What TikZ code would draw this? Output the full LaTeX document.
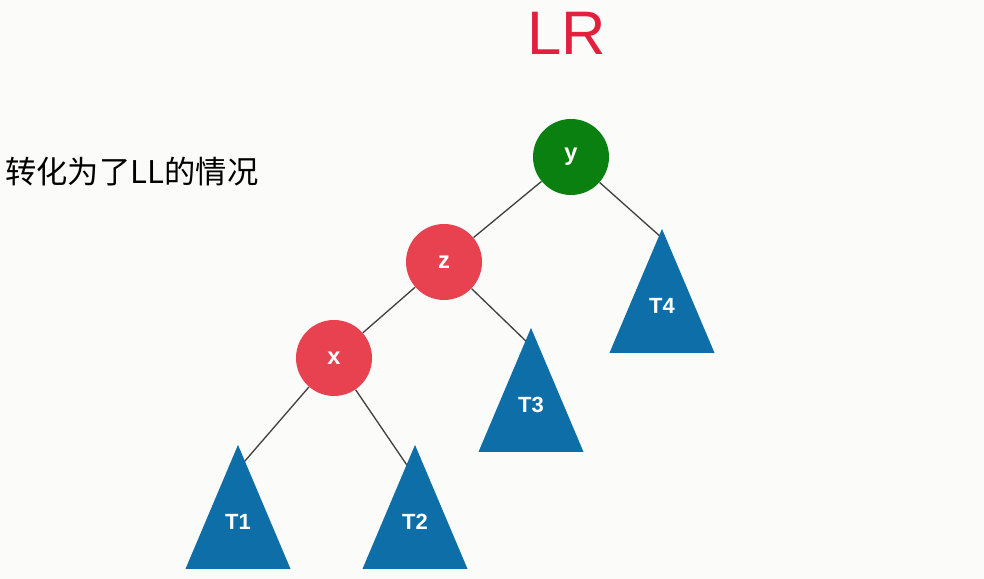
\documentclass[tikz,border=0pt]{standalone}
\usepackage{fontspec}
\setmainfont{Liberation Sans}
\newfontfamily\cjkfont{Noto Sans CJK SC}
\usetikzlibrary{shapes.geometric, positioning, calc, backgrounds}
\definecolor{nodered}{RGB}{232,65,80}
\definecolor{nodegreen}{RGB}{10,128,16}
\definecolor{treeblue}{RGB}{14,110,168}
\definecolor{titlered}{RGB}{226,32,62}
\definecolor{edgegray}{RGB}{64,64,64}
\definecolor{paper}{RGB}{251,251,250}
\tikzstyle{keynode} = [circle, minimum size=1.52cm, inner sep=0pt, text=white, font=\bfseries\fontsize{13.5}{15}\selectfont]
\tikzstyle{redkey} = [keynode, fill=nodered]
\tikzstyle{greenkey} = [keynode, fill=nodegreen]
\tikzstyle{subtree} = [isosceles triangle, isosceles triangle stretches, shape border rotate=90, minimum width=2.1cm, minimum height=2.48cm, inner sep=0pt, text depth=0.48cm, fill=treeblue, text=white, font=\bfseries\fontsize{12.5}{14}\selectfont]
\tikzstyle{edge} = [draw=edgegray, line width=0.75pt]

\begin{document}
\begin{tikzpicture}[on grid]

\begin{pgfonlayer}{background}
\fill[paper] (0,0) rectangle (19.68,11.58);
\end{pgfonlayer}
\useasboundingbox (0,0) rectangle (19.68,11.58);

\node (title) [text=titlered, font=\fontsize{35}{40}\selectfont] at (11.34,10.92) {LR};

\node (note) [anchor=west, inner sep=0pt, font=\cjkfont\fontsize{17.8}{20}\selectfont] at (0.1,8.14) {转化为了LL的情况};

\node (y) [greenkey] at (11.42,8.44) {y};

\node (z) [redkey, below left=2.1cm and 2.54cm of y] {z};

\node (x) [redkey, below left=1.92cm and 2.2cm of z] {x};

\node (T4) [subtree, below right=1.42cm and 1.82cm of y, anchor=apex] {T4};

\node (T3) [subtree, below right=1.3cm and 1.74cm of z, anchor=apex] {T3};

\node (T1) [subtree, below left=1.72cm and 1.92cm of x, anchor=apex] {T1};

\node (T2) [subtree, below right=1.72cm and 1.62cm of x, anchor=apex] {T2};

% edges go behind the nodes
\begin{pgfonlayer}{background}
\draw[edge] (y) -- (z);
\draw[edge] (y) -- ($(T4.apex)+(0,-0.2)$);
\draw[edge] (z) -- (x);
\draw[edge] (z) -- ($(T3.apex)+(0,-0.38)$);
\draw[edge] (x) -- ($(T1.apex)+(0,-0.5)$);
\draw[edge] (x) -- ($(T2.apex)+(0,-0.66)$);
\end{pgfonlayer}

\end{tikzpicture}
\end{document}
